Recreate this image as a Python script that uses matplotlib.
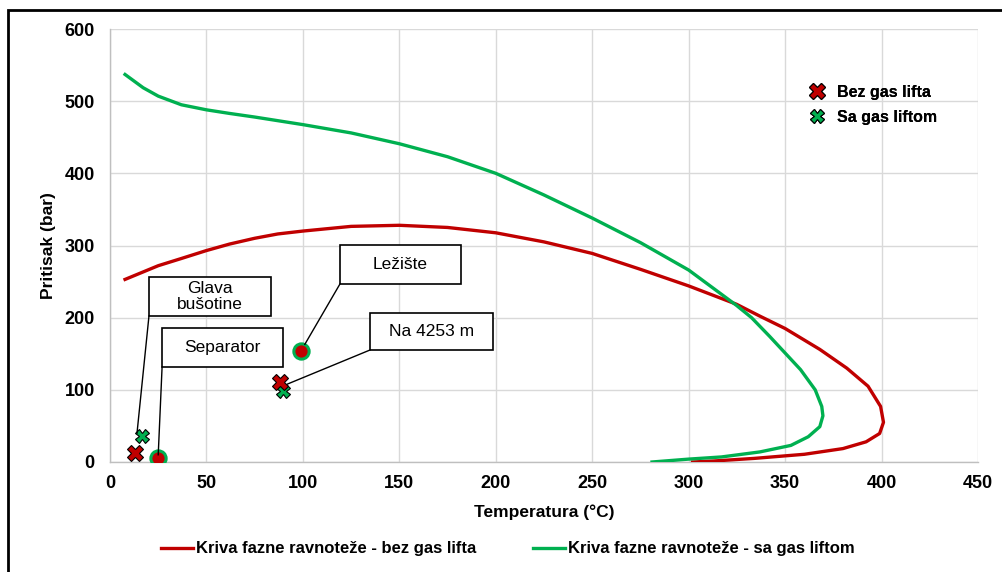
import matplotlib
matplotlib.use('Agg')
import matplotlib.pyplot as plt
from matplotlib.patches import Rectangle

plt.rcParams['font.family'] = ['Liberation Sans', 'DejaVu Sans']

# phase envelope without gas lift (T in C, P in bar)
red_t = [7.8, 25, 37, 50, 62, 75, 87, 100, 125, 150, 175, 200, 225, 250, 275, 300, 324.8, 337,
         350, 368, 382, 393, 399.5, 401, 399, 392, 380, 360, 334, 313, 302]
red_p = [253, 272, 282, 293, 302, 310, 316, 320, 326.5, 328, 325, 317.6, 305, 289, 267, 244, 218.6, 202,
         185, 156, 130, 105, 77, 55, 39.5, 28, 18.6, 10.7, 5, 1.4, 0]

# phase envelope with gas lift
green_t = [7.8, 12.4, 17.2, 25, 37, 50, 62, 75, 100, 125, 150, 175, 200, 225, 250, 275, 300,
           324.8, 332.6, 342, 350, 358, 365.6, 369, 369.6, 368, 362, 353, 337, 317, 300, 281]
green_p = [537, 528, 518.6, 507, 495, 488, 483, 478, 467.5, 456, 441, 423, 400, 370, 338, 304, 266,
           217, 200, 174, 151, 128, 100, 77, 64, 49, 35, 23, 14, 7, 4, 0]

# operating points
bez_t = [13, 88]
bez_p = [12, 111]
sa_t = [16.5, 89.5]
sa_p = [36, 99]
sep_lez_t = [25, 99]
sep_lez_p = [5, 154]

# labels: text, box lower-left (x, y), box w, h, leader end point
labels = ['Glava\nbušotine', 'Separator', 'Ležište', 'Na 4253 m']
box_xy = [(20.2, 202.3), (27.0, 131.6), (119.2, 246.6), (134.8, 155.2)]
box_wh = [(63.2, 54), (62.7, 54), (62.7, 54), (63.8, 51)]
leader_end = [(14, 40), (25, 10), (101, 163), (92, 108)]

red = '#c00000'
green = '#00b050'

fig = plt.figure(figsize=(10.03, 5.72), dpi=100)
ax = fig.add_axes([110 / 1003, 1 - 462 / 572, 868 / 1003, 433 / 572])

l1, = ax.plot(red_t, red_p, color=red, lw=2.4, solid_joinstyle='round', zorder=3)
l2, = ax.plot(green_t, green_p, color=green, lw=2.4, solid_joinstyle='round', zorder=3)

m1, = ax.plot(bez_t, bez_p, ls='none', marker='X', ms=12, mfc=red, mec='black', mew=0.8, zorder=5)
m2, = ax.plot(sa_t, sa_p, ls='none', marker='X', ms=9.5, mfc=green, mec='black', mew=0.8, zorder=4)
ax.plot(sep_lez_t, sep_lez_p, ls='none', marker='o', ms=11, mfc=red, mec=green, mew=2.2, zorder=5)

for txt, (bx, by), (bw, bh), (ex, ey) in zip(labels, box_xy, box_wh, leader_end):
    ax.add_patch(Rectangle((bx, by), bw, bh, facecolor='white', edgecolor='black', lw=1.2, zorder=6))
    ax.text(bx + bw / 2, by + bh / 2, txt, ha='center', va='center', fontsize=12.5,
            linespacing=1.1, zorder=7)
    ax.plot([bx, ex], [by, ey], color='black', lw=1, zorder=6)

ax.set_xlim(0, 450)
ax.set_ylim(0, 600)
ax.set_xticks(range(0, 451, 50))
ax.set_yticks(range(0, 601, 100))
ax.grid(True, color='#d9d9d9', lw=1)
ax.set_axisbelow(True)
for s in ['top', 'right']:
    ax.spines[s].set_visible(False)
for s in ['left', 'bottom']:
    ax.spines[s].set_color('#bfbfbf')
    ax.spines[s].set_linewidth(1)
ax.tick_params(length=0, labelsize=13)
ax.tick_params(axis='x', pad=9)
ax.tick_params(axis='y', pad=11)
for lab in ax.get_xticklabels() + ax.get_yticklabels():
    lab.set_fontweight('bold')

ax.set_xlabel('Temperatura (°C)', fontsize=12.5, fontweight='bold', labelpad=9)
ax.set_ylabel('Pritisak (bar)', fontsize=12.5, fontweight='bold', labelpad=6)

leg1 = ax.legend([m1, m2], ['Bez gas lifta', 'Sa gas liftom'], loc='upper left',
                 bbox_to_anchor=(809 / 1003, 1 - 85 / 572), bbox_transform=fig.transFigure,
                 frameon=False, handlelength=1.0, handletextpad=0.75, labelspacing=0.62,
                 prop={'weight': 'bold', 'size': 11.5}, borderaxespad=0, borderpad=0)
ax.add_artist(leg1)

fig.legend([l1, l2], ['Kriva fazne ravnoteže - bez gas lifta', 'Kriva fazne ravnoteže - sa gas liftom'],
           loc='center', bbox_to_anchor=(508 / 1003, 1 - 549 / 572), ncol=2, frameon=False,
           handlelength=1.9, handletextpad=0.2, columnspacing=3.4,
           prop={'weight': 'bold', 'size': 12})

# outer chart border
fig.add_artist(Rectangle((8 / 1003, -0.1), 1.2, 1.1 - 10 / 572, transform=fig.transFigure,
                         facecolor='none', edgecolor='black', lw=2))

fig.savefig('out.png', dpi=100)
